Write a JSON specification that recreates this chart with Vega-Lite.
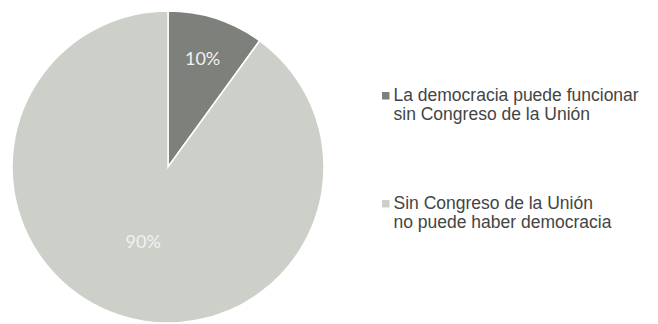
{
  "$schema": "https://vega.github.io/schema/vega-lite/v6.json",
  "width": 658,
  "height": 324,
  "autosize": "none",
  "padding": 0,
  "background": "#ffffff",
  "data": {
    "values": [
      {"opinion": "La democracia puede funcionar|sin Congreso de la Unión", "share": 10, "label": "10%", "k": 1},
      {"opinion": "Sin Congreso de la Unión|no puede haber democracia", "share": 90, "label": "90%", "k": 2}
    ]
  },
  "encoding": {
    "theta": {"field": "share", "type": "quantitative", "stack": true},
    "order": {"field": "k", "type": "quantitative"}
  },
  "layer": [
    {
      "mark": {"type": "arc", "x": 168, "y": 167, "outerRadius": 156, "stroke": "#ffffff", "strokeWidth": 1.5},
      "encoding": {
        "color": {
          "field": "opinion",
          "type": "nominal",
          "sort": null,
          "scale": {"range": ["#7e807b", "#cdd0c9"]},
          "legend": {
            "title": null,
            "orient": "none",
            "legendX": 377,
            "legendY": 87,
            "symbolType": "square",
            "symbolSize": 56,
            "symbolStrokeWidth": 0,
            "labelFont": "Liberation Sans",
            "labelFontSize": 17.5,
            "labelColor": "#444444",
            "labelOffset": -1,
            "labelLimit": 400,
            "labelExpr": "split(datum.label, '|')",
            "rowPadding": 70,
            "padding": 0
          }
        }
      }
    },
    {
      "mark": {"type": "text", "x": 168, "y": 167, "radius": 112, "font": "Lato", "fontSize": 18, "color": "#f2f2f2", "align": "center", "baseline": "middle"},
      "encoding": {"text": {"condition": {"test": "datum.k == 1", "field": "label"}, "value": ""}}
    },
    {
      "mark": {"type": "text", "x": 168, "y": 167, "radius": 80, "font": "Lato", "fontSize": 18, "color": "#f2f2f2", "align": "center", "baseline": "middle"},
      "encoding": {"text": {"condition": {"test": "datum.k == 2", "field": "label"}, "value": ""}}
    }
  ],
  "config": {
    "view": {"stroke": null},
    "style": {"guide-label": {"lineHeight": 19.5}}
  }
}
